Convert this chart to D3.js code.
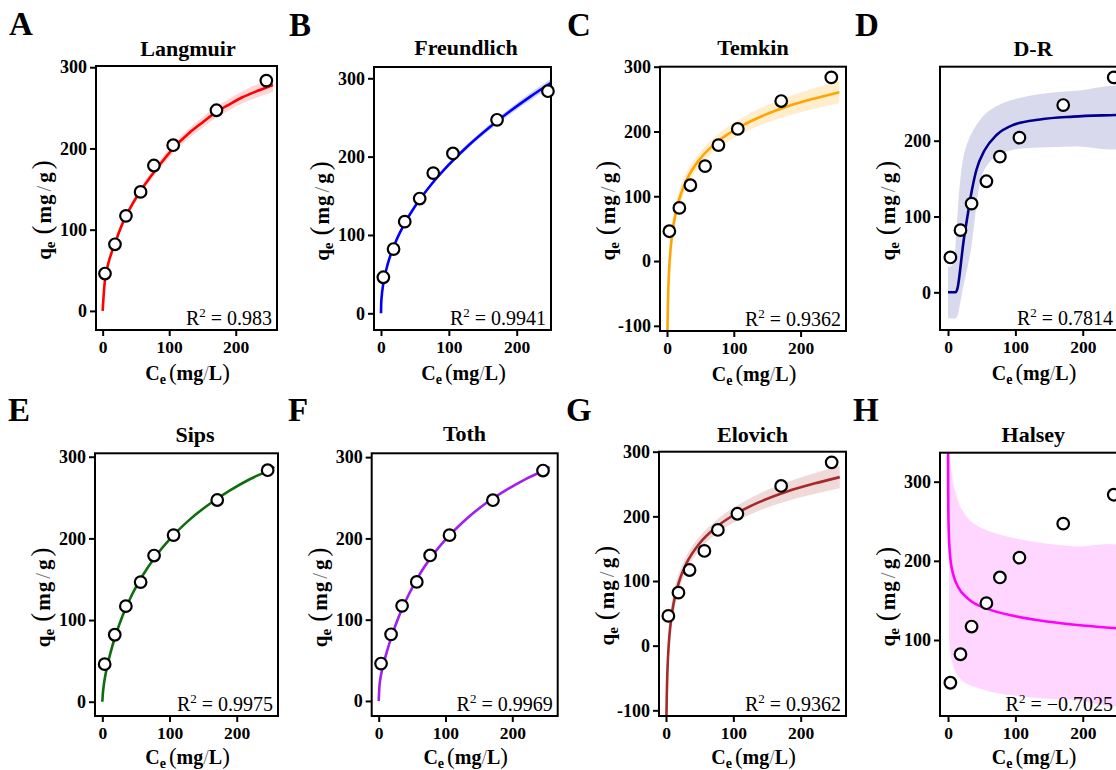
<!DOCTYPE html>
<html><head><meta charset="utf-8">
<script src="https://cdn.jsdelivr.net/npm/d3@7"></script>
<style>
html,body{margin:0;padding:0;background:#fff;}
svg{display:block;}
text{font-family:"Times New Roman","Liberation Serif",serif;}
</style></head><body>
<svg id="chart" width="1116" height="770"></svg>
<script>
// ---------------- DATA ----------------
// experimental points (same in every panel)
const ceData = [3.5, 18.5, 35, 57, 77, 106, 171, 246];
const qeData = [46, 82, 117, 146.5, 179, 204, 247, 283.5];

const panelLetters = ["A","B","C","D","E","F","G","H"];
const panelTitles = ["Langmuir","Freundlich","Temkin","D-R","Sips","Toth","Elovich","Halsey"];
const r2Values = ["0.983","0.9941","0.9362","0.7814","0.9975","0.9969","0.9362","\u22120.7025"];
const xTicks = [0, 100, 200];
const yTicksStd = [0, 100, 200, 300];
const yTicksNeg = [-100, 0, 100, 200, 300];
const yTicksDR = [0, 100, 200];
const yTicksHalsey = [100, 200, 300];

// fitted curves
const langmuirX  = [0, 1, 2, 3.5, 6, 10, 14, 18, 26, 35, 45, 57, 70, 85, 106, 130, 150, 171, 190, 210, 230, 246, 256];
const langmuirY  = [0, 13, 25, 38, 50, 63, 73, 82, 100, 117, 132, 148, 163, 179, 200, 219, 232, 245, 254, 263, 270, 275, 278];
const langmuirLo = [-1, 11, 22.5, 35, 46.5, 59, 69, 78, 96, 113, 128, 144, 158.5, 174, 194.5, 213, 225.5, 238, 247, 255.5, 262, 267, 269.5];
const langmuirHi = [1, 15, 27.5, 41, 53.5, 67, 77, 86, 104, 121, 136, 152, 167.5, 184, 205.5, 225, 238.5, 252, 261, 270.5, 278, 283, 286.5];

const freundX  = [0, 0.3, 1, 3, 5, 10, 20, 35, 50, 75, 100, 130, 160, 190, 220, 250];
const freundY  = [0, 11.8, 21, 35.5, 45.3, 63.1, 87.9, 114.9, 136.3, 165.4, 189.7, 215.2, 237.6, 257.9, 276.6, 294.0];
const freundLo = [0, 10.3, 19, 33, 42.8, 60.6, 85.4, 112.9, 134.3, 163.4, 187.2, 212.2, 234.1, 253.9, 272.1, 289];
const freundHi = [0, 13.3, 23, 38, 47.8, 65.6, 90.4, 116.9, 138.3, 167.4, 192.2, 218.2, 241.1, 261.9, 281.1, 299];

const temkinX  = [0.7, 0.8, 1, 1.5, 2, 3, 5, 8, 12, 20, 30, 50, 75, 100, 140, 180, 220, 258];
const temkinY  = [-108.4, -100, -86.1, -60.8, -42.8, -17.4, 14.5, 43.9, 69.2, 101.1, 126.5, 158.4, 183.7, 201.7, 222.7, 238.5, 250.7, 260.7];
const temkinLo = [-147, -137.9, -122.2, -93.5, -73.1, -44.4, -8.5, 24.5, 52.7, 87.8, 115.1, 148.1, 173.0, 190.1, 209.5, 223.8, 234.7, 243.6];
const temkinHi = [-69.6, -62.1, -50.0, -28.1, -12.5, 9.6, 37.5, 63.3, 85.7, 114.4, 137.9, 168.7, 194.4, 213.3, 235.9, 253.2, 266.7, 277.8];

const drX = [0, 5, 11, 14.6, 19.7, 23, 27.2, 31, 34.6, 42, 54.5, 72, 96.7, 136.6, 186, 250, 264];
const drY = [0, 0, 0, 7.4, 42.6, 67, 91, 112, 130.6, 161, 187.7, 207.5, 220.7, 228, 231.7, 234, 234.5];
const drBandUpper = [[0,34],[5,35],[9,45],[12,75],[15,115],[19,155],[24,183],[30,200],[37,213],[48,228],[62,240],[80,249],[100,255],[140,262],[190,266],[264,268]];
const drBandLower = [[0,-34],[12,-34],[17,-19],[22,5],[27,25],[31,42],[34.6,60],[39.6,95],[44.5,130],[52,158],[62,172],[75,181],[97,188],[137,191],[186,192.5],[264,194]];

const sipsX = [0, 1, 2, 3, 5, 8, 12, 20, 30, 45, 60, 80, 100, 130, 160, 190, 220, 250, 256];
const sipsY = [0, 12, 19, 25, 34.5, 46, 59.5, 82, 105, 132.5, 154.6, 178.8, 198.7, 223, 242.5, 258.8, 272.7, 284.6, 287.5];

const tothX = [0, 1, 2, 3, 5, 8, 12, 20, 30, 45, 60, 80, 100, 130, 160, 190, 220, 250, 256];
const tothY = [0, 17, 25, 30, 38, 48, 60, 81, 103.5, 131, 154, 178.5, 198.5, 223, 243, 259, 273, 285, 288];

const elovichX  = [0.7, 0.8, 1, 1.5, 2, 3, 5, 8, 12, 20, 30, 50, 75, 100, 140, 180, 220, 258];
const elovichY  = [-108.4, -100, -86.1, -60.8, -42.8, -17.4, 14.5, 43.9, 69.2, 101.1, 126.5, 158.4, 183.7, 201.7, 222.7, 238.5, 250.7, 260.7];
const elovichLo = [-147, -137.9, -122.2, -93.5, -73.1, -44.4, -8.5, 24.5, 52.7, 87.8, 115.1, 148.1, 173.0, 190.1, 209.5, 223.8, 234.7, 243.6];
const elovichHi = [-69.6, -62.1, -50.0, -28.1, -12.5, 9.6, 37.5, 63.3, 85.7, 114.4, 137.9, 168.7, 194.4, 213.3, 235.9, 253.2, 266.7, 277.8];

const halseyX = [0.08, 0.15, 0.3, 0.6, 1, 2, 4, 8, 15, 30, 60, 100, 150, 200, 264];
const halseyY = [336.6, 308, 281, 256, 240, 218.5, 199, 182, 167, 152, 139, 130, 123, 118.3, 114];
const halseyBandUpper = [[1.5,342],[3,327],[5,314],[7.2,300],[12,284],[17,271],[25,259],[37,248],[62,237],[112,226.4],[186,218.3],[264,214]];
const halseyBandLower = [[1.5,105],[3,85],[5,76],[7.2,69],[12,58],[17,52],[25,46],[37,41.5],[62,35],[87,31],[137,26.4],[186,24.5],[264,22]];

// ---------------- LAYOUT ----------------
const panels = [
  {frame:[96,66,277,330],      xDom:[-10,262],    yDom:[-23.5,301.5], yTicks:yTicksStd, color:"#ff0000", band:"rgba(255,0,0,0.16)",
   fx:langmuirX, fy:langmuirY, lo:langmuirLo, hi:langmuirHi, letterPos:[9,35], titleX:188, titleY:56, xlab:50},
  {frame:[374,67,551,330],     xDom:[-10.3,250.5],yDom:[-21.3,314.4], yTicks:yTicksStd, color:"#0000ff", band:"rgba(0,0,255,0.18)",
   fx:freundX, fy:freundY, lo:freundLo, hi:freundHi, letterPos:[289,36], titleX:466, titleY:55, xlab:50},
  {frame:[660,66.7,846,331],   xDom:[-10.5,268],  yDom:[-108,300],    yTicks:yTicksNeg, color:"#ffa500", band:"rgba(255,165,0,0.2)",
   fx:temkinX, fy:temkinY, lo:temkinLo, hi:temkinHi, letterPos:[567,36], titleX:753, titleY:55, xlab:50},
  {frame:[940,66.7,1126,330],  xDom:[-11.9,264.2],yDom:[-49.7,297.6], yTicks:yTicksDR, color:"#00008b", band:"rgba(0,0,139,0.15)",
   fx:drX, fy:drY, upper:drBandUpper, lower:drBandLower, letterPos:[855,36], titleX:1033, titleY:56, xlab:50},
  {frame:[95,453.3,278,716],   xDom:[-10.9,261.4],yDom:[-17.5,304.2], yTicks:yTicksStd, color:"#0e6e0e",
   fx:sipsX, fy:sipsY, letterPos:[8,421], titleX:195, titleY:441.5, xlab:48},
  {frame:[371.7,453.3,557.7,716], xDom:[-10.5,268], yDom:[-18.5,304.7], yTicks:yTicksStd, color:"#a020f0",
   fx:tothX, fy:tothY, letterPos:[288,421], titleX:464.5, titleY:440.5, xlab:48},
  {frame:[659,451.7,846,716],  xDom:[-10.4,267.3],yDom:[-108.8,300],  yTicks:yTicksNeg, color:"#a52a2a", band:"rgba(165,42,42,0.18)",
   fx:elovichX, fy:elovichY, lo:elovichLo, hi:elovichHi, letterPos:[566,421], titleX:752.5, titleY:441.5, xlab:48},
  {frame:[940,452.7,1126,716], xDom:[-11.9,264.2],yDom:[4,336.6],     yTicks:yTicksHalsey, color:"#ff00ff", band:"rgba(255,0,255,0.16)",
   fx:halseyX, fy:halseyY, upper:halseyBandUpper, lower:halseyBandLower, letterPos:[853,421], titleX:1033.3, titleY:441.5, xlab:48}
];

const svg = d3.select("#chart");
const defs = svg.append("defs");
const W = 1116;

panels.forEach((p, i) => {
  const [L, T, R, B] = p.frame;
  const x = d3.scaleLinear().domain(p.xDom).range([L, R]);
  const y = d3.scaleLinear().domain(p.yDom).range([B, T]);
  const g = svg.append("g");

  defs.append("clipPath").attr("id", "clip" + i)
    .append("rect").attr("x", L).attr("y", T).attr("width", R - L).attr("height", B - T);
  const plot = g.append("g").attr("clip-path", `url(#clip${i})`);

  // confidence band
  if (p.lo) {
    const area = d3.area().x(d => x(d[0])).y0(d => y(d[1])).y1(d => y(d[2])).curve(d3.curveMonotoneX);
    plot.append("path").datum(d3.zip(p.fx, p.lo, p.hi)).attr("d", area).attr("fill", p.band);
  }
  if (p.upper) {
    const poly = p.upper.concat(p.lower.slice().reverse());
    const ln = d3.line().x(d => x(d[0])).y(d => y(d[1])).curve(d3.curveCatmullRom.alpha(0.5));
    plot.append("path").attr("d", ln(poly) + "Z").attr("fill", p.band);
  }
  // fitted line
  const line = d3.line().x(d => x(d[0])).y(d => y(d[1])).curve(d3.curveMonotoneX);
  plot.append("path").datum(d3.zip(p.fx, p.fy)).attr("d", line)
    .attr("fill", "none").attr("stroke", p.color).attr("stroke-width", 2.6)
    .attr("stroke-linejoin", "round");

  // frame
  g.append("rect").attr("x", L).attr("y", T).attr("width", R - L).attr("height", B - T)
    .attr("fill", "none").attr("stroke", "#000").attr("stroke-width", 2);

  // axes
  const yAxis = d3.axisLeft(y).tickValues(p.yTicks).tickSize(6).tickPadding(3).tickFormat(d => String(d));
  const xAxis = d3.axisBottom(x).tickValues(xTicks).tickSize(6).tickPadding(5).tickFormat(d => String(d));
  const ya = g.append("g").attr("transform", `translate(${L},0)`).call(yAxis);
  const xa = g.append("g").attr("transform", `translate(0,${B})`).call(xAxis);
  [[ya, "18px"], [xa, "17.5px"]].forEach(([a, fs]) => {
    a.select(".domain").remove();
    a.selectAll(".tick line").attr("stroke", "#000").attr("stroke-width", 2);
    a.selectAll(".tick text").attr("fill", "#000")
      .style("font-family", '"Times New Roman","Liberation Serif",serif')
      .style("font-size", fs).style("font-weight", "bold");
  });

  // data points
  g.append("g").selectAll("circle").data(d3.zip(ceData, qeData)).join("circle")
    .attr("cx", d => x(d[0])).attr("cy", d => y(d[1])).attr("r", 5.8)
    .attr("fill", "#fff").attr("stroke", "#000").attr("stroke-width", 2.2);

  // R² label
  const r2 = g.append("text").attr("x", Math.min(R - 5, W - 3)).attr("y", B - 5).attr("text-anchor", "end")
    .style("font-size", "20px").attr("fill", "#000");
  r2.append("tspan").text("R");
  r2.append("tspan").attr("dy", -8).style("font-size", "13px").text("2");
  r2.append("tspan").attr("dy", 8).text(" = " + r2Values[i]);

  // title
  g.append("text").attr("x", p.titleX).attr("y", p.titleY).attr("text-anchor", "middle")
    .style("font-size", "22px").style("font-weight", "bold").text(panelTitles[i]);

  // panel letter
  g.append("text").attr("x", p.letterPos[0]).attr("y", p.letterPos[1])
    .style("font-size", "33px").style("font-weight", "bold").text(panelLetters[i]);

  // x axis label  C_e (mg/L)
  const xl = g.append("text").attr("x", (L + R) / 2 + 1).attr("y", B + p.xlab).attr("text-anchor", "middle")
    .style("font-size", "20px").style("font-weight", "bold");
  xl.append("tspan").text("C");
  xl.append("tspan").attr("dy", 4).style("font-size", "14px").text("e");
  xl.append("tspan").attr("dy", -4).attr("dx", 3).style("font-size", "23px").style("font-weight", "normal").text("(");
  xl.append("tspan").text("mg");
  xl.append("tspan").style("font-weight", "normal").attr("fill", "#777").text("/");
  xl.append("tspan").text("L");
  xl.append("tspan").style("font-size", "23px").style("font-weight", "normal").text(")");

  // y axis label  q_e (mg/g)
  const yl = g.append("text").attr("transform", `translate(${L - 45},${T + 144}) rotate(-90)`)
    .attr("text-anchor", "middle").style("font-size", "21px").style("font-weight", "bold");
  yl.append("tspan").text("q");
  yl.append("tspan").attr("dy", 4).style("font-size", "15px").text("e");
  yl.append("tspan").attr("dy", -4).attr("dx", 7).style("font-size", "27px").style("font-weight", "normal").text("(");
  yl.append("tspan").attr("dx", 2).style("letter-spacing", "1px").text("mg");
  yl.append("tspan").attr("dx", 2).style("font-weight", "normal").attr("fill", "#777").text("/");
  yl.append("tspan").attr("dx", 3).text("g");
  yl.append("tspan").attr("dx", 3).style("font-size", "27px").style("font-weight", "normal").text(")");
});
</script></body></html>
